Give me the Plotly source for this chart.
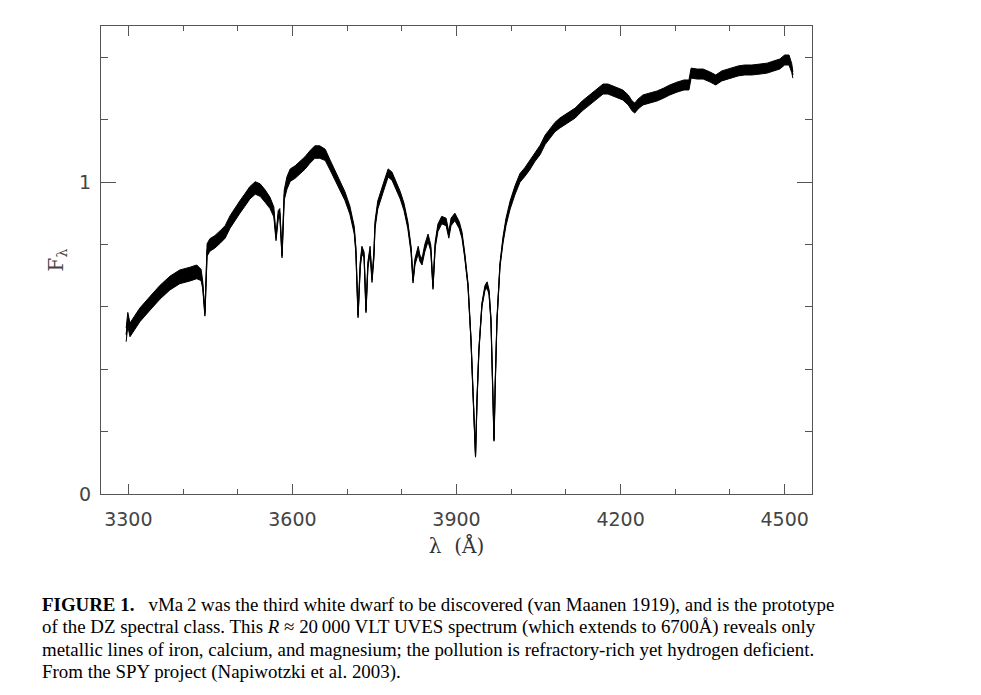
import plotly.graph_objects as go

# vMa 2 UVES spectrum (wavelength in Angstrom, relative flux)
wavelength = [
    3296, 3299, 3303, 3312, 3321, 3340, 3358, 3376, 3394, 3413, 3425, 3433, 3436, 3440, 3442,
    3444, 3449, 3458, 3468, 3477, 3486, 3495, 3504, 3513, 3522, 3532, 3541, 3550, 3559, 3566,
    3570, 3574, 3577, 3581, 3585, 3590, 3596, 3605, 3614, 3623, 3632, 3641, 3650, 3660, 3669,
    3678, 3687, 3696, 3705, 3713, 3716, 3720, 3724, 3727, 3731, 3734.5, 3738, 3742, 3745.5, 3749,
    3751, 3756, 3766, 3775, 3782, 3789, 3797, 3804, 3811, 3817, 3820.5, 3824, 3830, 3833, 3837,
    3842, 3848, 3853, 3857, 3861, 3866, 3873, 3881, 3886, 3890, 3897, 3905, 3910, 3915, 3921,
    3926.5, 3930, 3933, 3934.8, 3937.5, 3941, 3946.5, 3952, 3956, 3959.5, 3963, 3966.7, 3968.6, 3971, 3974,
    3979.5, 3985, 3990.5, 3998, 4007, 4016, 4025, 4034, 4043, 4053, 4062, 4071, 4080, 4089, 4102,
    4117, 4130, 4144, 4157, 4168, 4177, 4186, 4195, 4204, 4214, 4221, 4226, 4232, 4241, 4254,
    4267, 4279, 4290, 4303, 4316, 4325, 4329, 4340, 4351, 4363, 4374, 4385, 4400, 4415, 4427,
    4440, 4455, 4468, 4480, 4491, 4500, 4508, 4513, 4515,
]
flux = [
    0.510, 0.560, 0.526, 0.548, 0.574, 0.612, 0.647, 0.676, 0.696, 0.705, 0.712, 0.702, 0.670, 0.576, 0.654,
    0.782, 0.798, 0.808, 0.824, 0.840, 0.872, 0.897, 0.920, 0.942, 0.965, 0.981, 0.974, 0.955, 0.933, 0.904,
    0.820, 0.894, 0.901, 0.763, 0.958, 0.997, 1.022, 1.032, 1.045, 1.061, 1.080, 1.096, 1.096, 1.087, 1.054,
    1.022, 0.990, 0.955, 0.910, 0.846, 0.782, 0.570, 0.734, 0.782, 0.766, 0.586, 0.734, 0.782, 0.686, 0.766,
    0.862, 0.926, 0.981, 1.029, 1.019, 0.990, 0.958, 0.920, 0.862, 0.782, 0.682, 0.744, 0.782, 0.756, 0.744,
    0.788, 0.821, 0.788, 0.662, 0.798, 0.853, 0.878, 0.872, 0.830, 0.872, 0.888, 0.862, 0.830, 0.766, 0.670,
    0.494, 0.333, 0.205, 0.122, 0.301, 0.462, 0.606, 0.660, 0.670, 0.647, 0.558, 0.301, 0.173, 0.365, 0.558,
    0.734, 0.814, 0.872, 0.926, 0.974, 1.013, 1.032, 1.054, 1.080, 1.103, 1.135, 1.157, 1.176, 1.189, 1.205,
    1.221, 1.244, 1.263, 1.282, 1.298, 1.298, 1.292, 1.285, 1.279, 1.263, 1.244, 1.237, 1.250, 1.263, 1.269,
    1.276, 1.285, 1.295, 1.304, 1.311, 1.311, 1.349, 1.346, 1.346, 1.337, 1.327, 1.340, 1.349, 1.356, 1.359,
    1.359, 1.362, 1.365, 1.372, 1.378, 1.391, 1.391, 1.365, 1.343,
]
# half width of the noise band around the flux
noise = [
    0.022, 0.022, 0.022, 0.022, 0.022, 0.022, 0.022, 0.022, 0.022, 0.022, 0.022, 0.018, 0.012, 0.006, 0.010,
    0.020, 0.020, 0.020, 0.020, 0.020, 0.020, 0.020, 0.020, 0.020, 0.020, 0.020, 0.020, 0.020, 0.018, 0.016,
    0.008, 0.014, 0.014, 0.006, 0.016, 0.020, 0.020, 0.020, 0.020, 0.020, 0.020, 0.020, 0.020, 0.018, 0.016,
    0.016, 0.015, 0.014, 0.013, 0.012, 0.010, 0.005, 0.010, 0.012, 0.010, 0.005, 0.010, 0.012, 0.008, 0.010,
    0.012, 0.013, 0.013, 0.013, 0.013, 0.013, 0.012, 0.012, 0.011, 0.010, 0.006, 0.010, 0.012, 0.010, 0.010,
    0.012, 0.012, 0.010, 0.006, 0.010, 0.012, 0.012, 0.012, 0.010, 0.012, 0.012, 0.011, 0.010, 0.008, 0.006,
    0.004, 0.004, 0.004, 0.004, 0.004, 0.004, 0.006, 0.008, 0.010, 0.008, 0.005, 0.004, 0.004, 0.004, 0.004,
    0.006, 0.010, 0.012, 0.013, 0.014, 0.014, 0.014, 0.015, 0.015, 0.015, 0.015, 0.015, 0.015, 0.016, 0.016,
    0.016, 0.016, 0.016, 0.016, 0.016, 0.016, 0.016, 0.016, 0.016, 0.016, 0.016, 0.016, 0.016, 0.016, 0.016,
    0.016, 0.016, 0.016, 0.016, 0.016, 0.016, 0.016, 0.016, 0.016, 0.016, 0.016, 0.016, 0.016, 0.016, 0.016,
    0.016, 0.016, 0.016, 0.016, 0.016, 0.016, 0.016, 0.014, 0.010,
]

caption = [
    "<b>FIGURE 1.</b>   vMa\u20092 was the third white dwarf to be discovered (van Maanen 1919), and is the prototype",
    "of the DZ spectral class. This <i>R</i> \u2248 20\u2009000 VLT UVES spectrum (which extends to 6700\u00c5) reveals only",
    "metallic lines of iron, calcium, and magnesium; the pollution is refractory-rich yet hydrogen deficient.",
    "From the SPY project (Napiwotzki et al. 2003).",
]

lower = [f - n for f, n in zip(flux, noise)]
upper = [f + n for f, n in zip(flux, noise)]

fig = go.Figure()
fig.add_trace(go.Scatter(x=wavelength, y=lower, mode="lines",
                         line=dict(color="black", width=1), hoverinfo="skip"))
fig.add_trace(go.Scatter(x=wavelength, y=upper, mode="lines", fill="tonexty",
                         fillcolor="black",
                         line=dict(color="black", width=1), hoverinfo="skip"))
fig.add_trace(go.Scatter(x=wavelength, y=flux, mode="lines",
                         line=dict(color="black", width=1.2), name="vMa 2"))

axis_common = dict(
    showline=True, linecolor="#555", linewidth=1, mirror="ticks",
    ticks="inside", tickcolor="#555", showgrid=False, zeroline=False,
    tickfont=dict(family="DejaVu Sans", size=19, color="#444"),
)
fig.update_xaxes(
    range=[3250, 4550], tick0=3300, dtick=300, ticklen=10, ticklabelstandoff=8,
    minor=dict(dtick=100, ticklen=5, ticks="inside", tickcolor="#555"),
    title=dict(text="\u03bb  (\u00c5)", standoff=10,
               font=dict(family="DejaVu Serif", size=20, color="#333")),
    **axis_common,
)
fig.update_yaxes(
    range=[0, 1.5], tickvals=[0, 1], ticktext=["0", "1"], ticklen=15, ticklabelstandoff=5,
    minor=dict(tickvals=[0.2, 0.4, 0.6, 0.8, 1.2, 1.4], ticklen=7,
               ticks="inside", tickcolor="#555"),
    title=dict(text="F<sub>\u03bb</sub>", standoff=10,
               font=dict(family="DejaVu Serif", size=20, color="#444")),
    **axis_common,
)

# the page adds an 8px body margin, so pixel positions below are page - 8
def paper_y(py):
    return (486 - py) / 468

for i, line in enumerate(caption):
    fig.add_annotation(
        text=line, xref="paper", yref="paper",
        x=(32 - 93) / 711, y=paper_y(597 + i * 22.2),
        xanchor="left", yanchor="middle", showarrow=False, align="left",
        font=dict(family="Liberation Serif", size=18.9, color="black"),
    )

fig.update_layout(
    width=981, height=695,
    margin=dict(l=93, r=177, t=18, b=209),
    plot_bgcolor="white", paper_bgcolor="white",
    showlegend=False,
)

fig.write_html("out.html")
